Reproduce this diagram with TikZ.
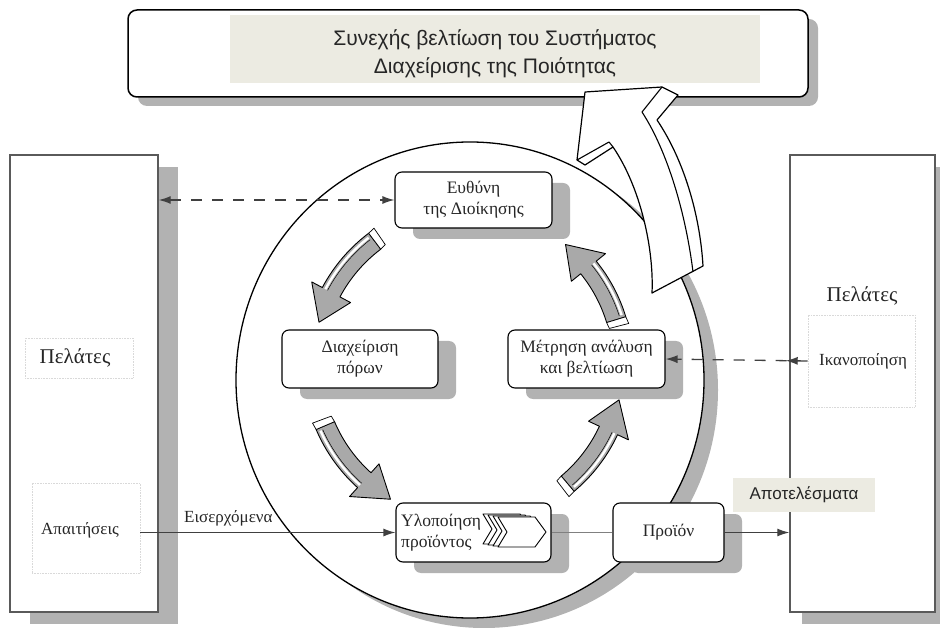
\documentclass[tikz,border=0pt]{standalone}
\usepackage{fontspec}
\setmainfont{Liberation Serif}
\newfontfamily\headfont{Liberation Sans}
\usetikzlibrary{arrows.meta,decorations.markings}

\definecolor{shadowgray}{HTML}{B2B2B2}
\definecolor{paleband}{HTML}{ECEBE2}
\definecolor{edgegray}{HTML}{5A5A5A}
\definecolor{linegray}{HTML}{404040}
\definecolor{arrowgray}{HTML}{A9A9A9}
\definecolor{inkgray}{HTML}{262626}

\tikzset{
  castshadow/.style={preaction={fill=shadowgray, draw=none, transform canvas={shift={(#1)}}}},
  custbox/.style={draw=edgegray, line width=1.4pt, fill=white, inner sep=0pt},
  procbox/.style={draw=black, line width=1.1pt, rounded corners=7pt, fill=white,
    align=center, text=inkgray, font=\fontsize{17.5}{21}\selectfont, inner sep=2pt,
    castshadow={18pt,-11pt}},
  dotframe/.style={draw=gray!30, densely dotted, line width=0.6pt, inner sep=0pt},
  lbl/.style={text=inkgray, font=\fontsize{17}{20}\selectfont, inner sep=0pt},
  biglbl/.style={text=inkgray, font=\fontsize{21}{24}\selectfont, inner sep=0pt},
  dashlink/.style={draw=linegray, line width=1.3pt, dash pattern=on 11pt off 10pt},
  solidlink/.style={draw=linegray, line width=1.3pt},
  thinlink/.style={draw=gray, line width=1pt},
  ringstyle/.style={fill=arrowgray, draw=black, line width=0.9pt, line join=round},
}

% curved block arrow on the inner ring: tail angle, head base angle, tip angle
\newcommand\ringarrow[3]{%
  \draw[ringstyle] (#1:165) arc[start angle=#1, end angle=#2, radius=165]
    -- (#2:177) -- (#3:155) -- (#2:133) -- (#2:145)
    arc[start angle=#2, end angle=#1, radius=145] -- cycle;
  \draw[white, line width=2.4pt] ({#1+1}:161.5) arc[start angle=#1+1, end angle=#2, radius=161.5];
  \draw[black, line width=0.5pt] ({#1+1}:159) arc[start angle=#1+1, end angle=#2, radius=159];
  \draw[fill=white, line width=0.7pt, line join=round] (#1:145) -- (#1:165) -- ({#1-2.5}:166) -- ({#1-2.5}:146) -- cycle;
}

% stacked chevron marker
\newcommand\chevmark[2]{%
  \draw[fill=white, line width=0.9pt, line join=round] (#1,#2) -- ++(37,0) -- ++(11,15)
    -- ++(-11,15) -- ++(-37,0) -- ++(9,-15) -- cycle;
}

\begin{document}
\begin{tikzpicture}[x=1pt, y=-1pt, >={Latex[length=12pt,width=8pt]}]
\useasboundingbox (0,0) rectangle (940,628);

% customer columns
\node[custbox, castshadow={20pt,-12pt}, minimum width=148pt, minimum height=457pt] (leftcust) at (84,383.5) {};
\node[dotframe, minimum width=108pt, minimum height=40pt] (leftnameframe) at (79,358) {};
\node[biglbl] (leftname) at (75,358) {Πελάτες};
\node[dotframe, minimum width=108pt, minimum height=90pt] (demandsframe) at (86,528) {};
\node[lbl] (demands) at (80,530) {Απαιτήσεις};

\node[custbox, castshadow={12pt,-12pt}, minimum width=145pt, minimum height=457pt] (rightcust) at (862.5,383.5) {};
\node[biglbl] (rightname) at (862,296) {Πελάτες};
\node[dotframe, minimum width=107pt, minimum height=92pt] (satisfframe) at (861.5,361) {};
\node[lbl] (satisf) at (863,361) {Ικανοποίηση};

% process circle with its shadow
\fill[shadowgray] (484,390) ellipse[x radius=234, y radius=238];
\draw[line width=1.3pt, fill=white] (470,380) ellipse[x radius=234, y radius=238];

% improvement banner
\node[draw=black, line width=1.5pt, rounded corners=9pt, fill=white, castshadow={10pt,-9pt},
      minimum width=680pt, minimum height=87pt] (titlebox) at (468,53.5) {};
\node[fill=paleband, minimum width=530pt, minimum height=68pt] (titleband) at (495,49) {};
\node[font=\headfont\fontsize{21}{28}\selectfont, align=center, text=inkgray] (title) at (495,54)
  {Συνεχής βελτίωση του Συστήματος\\Διαχείρισης της Ποιότητας};

% large hollow arrow rising to the banner
\draw[line width=1.2pt, fill=white, line join=round]
  (652,293) .. controls (654,250) and (641,188) .. (613,147) -- (585,165) -- (577,160)
  -- (585,92) -- (662,87) -- (678,95) -- (657,120)
  .. controls (684,160) and (700,215) .. (703,266) -- cycle;
\draw[line width=1.1pt, line join=round] (577,160) -- (609,142) -- (613,147);
\draw[line width=1.1pt, line join=round] (662,87) -- (642,112)
  .. controls (668,152) and (686,215) .. (693,272);

% process boxes
\node[procbox, minimum width=157pt, minimum height=56pt] (resp) at (473.5,200) {Ευθύνη\\της Διοίκησης};
\node[procbox, minimum width=156pt, minimum height=58pt] (resources) at (360,359) {Διαχείριση\\πόρων};
\node[procbox, minimum width=157pt, minimum height=58pt] (measure) at (586.5,359) {Μέτρηση ανάλυση\\και βελτίωση};
\node[procbox, minimum width=155pt, minimum height=59pt] (realize) at (473.5,532.5) {};
\node[procbox, minimum width=111pt, minimum height=59pt] (product) at (668.5,532.5) {Προϊόν};
\node[text=inkgray, font=\fontsize{17.5}{21}\selectfont, align=left, anchor=west, inner sep=0pt]
  (realizetext) at (401,533) {Υλοποίηση\\προϊόντος};

% cycle arrows
\begin{scope}[shift={(468,365)}, yscale=-1]
  \ringarrow{127}{152}{164}
  \ringarrow{203}{228}{240}
  \ringarrow{-50}{-25}{-13}
  \ringarrow{17}{39}{51}
\end{scope}

% chevrons inside the realisation box
\chevmark{483}{514}
\chevmark{488}{515}
\chevmark{493}{516}
\chevmark{498}{517}

% connectors
\draw[dashlink, <->] (resp.west -| leftcust.east) -- (resp.west);
\draw[dashlink, ->, postaction={decorate},
      decoration={markings, mark=at position 22pt with {\arrow{Latex[length=12pt,width=8pt]}}}]
  (satisfframe.west) -- (measure.east);
\draw[solidlink, ->] (realize.west -| demandsframe.east) -- (realize.west);
\draw[thinlink] (realize.east) -- (product.west);
\draw[solidlink, ->] (product.east) -- (product.east -| rightcust.west);
\node[lbl, anchor=base west] (incoming) at (184,522) {Εισερχόμενα};

\node[fill=paleband, minimum width=142pt, minimum height=34pt, text=inkgray,
      font=\headfont\fontsize{17}{20}\selectfont] (results) at (804,495) {Αποτελέσματα};
\end{tikzpicture}
\end{document}
